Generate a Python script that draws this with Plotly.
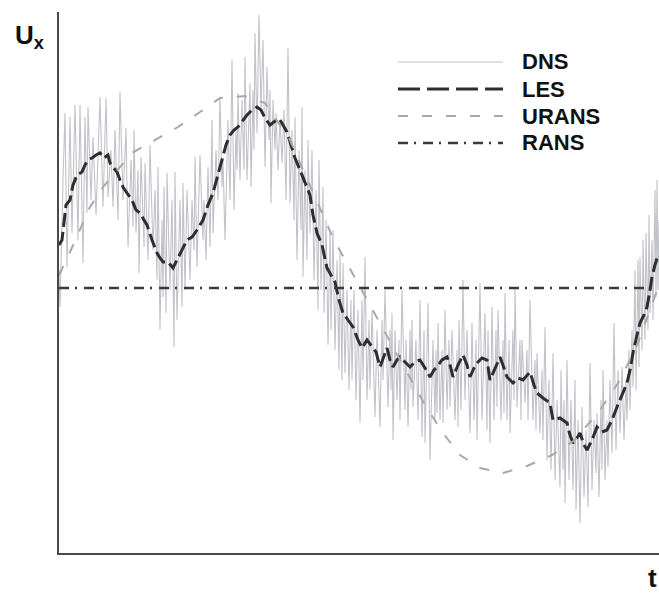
import plotly.graph_objects as go

# Time axis and velocity samples (arbitrary units, no tick labels on the chart)
dns_t = [59, 60, 63, 65, 67, 70, 72, 75, 78, 80, 83, 85, 87, 88, 91, 93, 96, 100, 103, 106,
         108, 111, 113, 115, 118, 120, 123, 126, 128, 131, 133, 134, 136, 138, 139, 141, 144, 145, 148, 150,
         153, 155, 157, 158, 160, 162, 163, 164, 166, 167, 170, 172, 174, 175, 177, 180, 182, 183, 185, 187,
         190, 192, 194, 195, 197, 200, 203, 204, 206, 208, 210, 212, 213, 216, 218, 220, 222, 223, 225, 228,
         230, 232, 234, 236, 237, 238, 240, 242, 244, 245, 247, 250, 251, 253, 254, 255, 257, 259, 261, 263,
         265, 267, 269, 270, 271, 273, 275, 276, 278, 280, 282, 284, 286, 288, 290, 292, 294, 295, 297, 299,
         301, 302, 303, 305, 307, 308, 310, 312, 314, 316, 318, 319, 321, 323, 324, 326, 328, 330, 331, 333,
         335, 337, 339, 340, 342, 343, 345, 347, 349, 351, 352, 354, 356, 358, 360, 362, 363, 365, 367, 369,
         370, 372, 375, 377, 380, 382, 383, 385, 388, 390, 391, 392, 393, 395, 397, 399, 400, 402, 405, 406,
         408, 410, 411, 412, 413, 416, 418, 420, 422, 424, 425, 428, 430, 433, 435, 436, 437, 438, 440, 442,
         443, 445, 447, 449, 450, 452, 455, 457, 458, 459, 461, 463, 465, 467, 470, 472, 474, 476, 477, 480,
         482, 485, 487, 488, 490, 492, 494, 496, 497, 498, 501, 503, 504, 505, 507, 509, 510, 513, 514, 515,
         517, 520, 521, 522, 525, 527, 528, 530, 533, 535, 536, 537, 540, 542, 543, 545, 547, 549, 551, 553,
         555, 557, 560, 561, 563, 564, 565, 567, 569, 571, 573, 575, 576, 578, 580, 582, 584, 586, 588, 590,
         592, 594, 596, 597, 599, 601, 602, 603, 605, 607, 608, 610, 612, 614, 616, 618, 620, 622, 624, 626,
         627, 629, 630, 632, 633, 635, 636, 638, 639, 640, 642, 643, 645, 646, 648, 649, 650, 652, 653, 655,
         656, 657, 658, 659]
dns_u = [330, 293, 420, 487, 333, 483, 367, 495, 360, 495, 337, 483, 387, 493, 400, 463, 385, 503, 393, 502,
         403, 450, 393, 470, 380, 508, 400, 472, 353, 440, 373, 470, 367, 430, 327, 443, 353, 437, 340, 455,
         350, 410, 320, 433, 270, 380, 303, 413, 287, 427, 310, 400, 253, 428, 280, 400, 293, 417, 310, 410,
         320, 400, 350, 443, 333, 445, 360, 400, 340, 433, 353, 480, 367, 450, 400, 503, 413, 440, 360, 480,
         400, 540, 390, 470, 430, 507, 420, 500, 430, 543, 420, 517, 413, 510, 450, 567, 467, 585, 490, 560,
         433, 533, 460, 510, 397, 500, 450, 487, 430, 480, 437, 490, 400, 552, 397, 470, 380, 483, 340, 450,
         370, 493, 323, 430, 340, 460, 367, 450, 320, 410, 290, 440, 310, 413, 287, 380, 255, 370, 270, 370,
         250, 340, 230, 347, 220, 337, 227, 310, 210, 300, 220, 310, 200, 290, 177, 300, 220, 343, 200, 280,
         210, 290, 183, 270, 173, 280, 220, 310, 193, 270, 210, 287, 160, 270, 200, 260, 180, 310, 190, 260,
         173, 270, 210, 280, 193, 260, 180, 300, 163, 270, 157, 297, 140, 260, 180, 250, 187, 277, 180, 250,
         177, 290, 190, 260, 193, 270, 180, 250, 173, 280, 190, 320, 200, 270, 167, 277, 180, 260, 160, 317,
         180, 287, 170, 270, 157, 293, 180, 270, 193, 290, 180, 260, 187, 307, 180, 260, 167, 270, 200, 313,
         193, 260, 180, 260, 197, 250, 180, 300, 180, 240, 170, 247, 167, 230, 160, 273, 140, 220, 130, 247,
         120, 200, 113, 230, 130, 200, 97, 240, 120, 200, 110, 220, 90, 180, 77, 193, 103, 170, 93, 237,
         110, 180, 127, 187, 103, 200, 130, 230, 120, 180, 133, 220, 147, 277, 150, 230, 167, 233, 160, 220,
         180, 250, 190, 270, 213, 330, 210, 340, 233, 343, 250, 360, 260, 367, 270, 385, 287, 360, 280, 410,
         303, 420, 310, 380]

les_t = [59, 62, 66, 70, 73, 77, 82, 85, 88, 92, 96, 100, 104, 108, 110, 114, 117, 120, 123, 127,
         132, 136, 140, 144, 147, 152, 157, 160, 163, 168, 173, 178, 183, 187, 192, 197, 203, 208, 213, 218,
         222, 226, 230, 234, 238, 243, 247, 252, 257, 261, 265, 270, 274, 279, 283, 287, 291, 295, 300, 305,
         310, 313, 317, 322, 327, 331, 335, 339, 343, 348, 353, 358, 362, 367, 372, 376, 380, 384, 387, 390,
         393, 397, 400, 405, 410, 415, 420, 425, 430, 434, 437, 442, 447, 450, 453, 458, 463, 467, 470, 474,
         477, 482, 487, 490, 495, 500, 504, 507, 513, 518, 523, 530, 534, 537, 543, 550, 553, 560, 567, 570,
         573, 577, 580, 584, 587, 592, 597, 602, 607, 612, 617, 622, 627, 630, 633, 637, 640, 644, 647, 650,
         652, 655, 658]
les_u = [355, 360, 395, 400, 415, 425, 428, 435, 440, 442, 445, 447, 442, 445, 437, 432, 428, 420, 413, 407,
         400, 390, 387, 380, 375, 360, 347, 342, 338, 338, 332, 342, 353, 360, 363, 370, 380, 395, 407, 425,
         440, 455, 465, 470, 473, 480, 485, 490, 493, 490, 482, 475, 478, 482, 475, 468, 455, 442, 430, 418,
         405, 385, 367, 355, 332, 325, 318, 300, 287, 280, 273, 260, 252, 260, 253, 248, 233, 245, 252, 240,
         233, 240, 243, 238, 233, 238, 240, 232, 223, 230, 233, 240, 243, 235, 223, 235, 245, 235, 223, 232,
         237, 242, 240, 220, 232, 243, 232, 223, 217, 222, 220, 228, 215, 207, 202, 197, 180, 182, 177, 165,
         157, 162, 167, 155, 150, 160, 173, 168, 170, 180, 193, 205, 217, 230, 247, 265, 277, 285, 293, 310,
         323, 335, 345]

urans_t = [59, 70, 90, 103, 132, 155, 178, 200, 220, 245, 265, 290, 310, 333, 360, 382, 405, 425, 443, 460,
           480, 503, 527, 552, 575, 600, 620, 638, 659]
urans_u = [325, 348, 393, 413, 447, 460, 473, 488, 502, 504, 497, 460, 415, 362, 313, 273, 230, 195, 167, 145,
           132, 127, 134, 145, 160, 190, 220, 257, 315]

rans_t = [59, 659]
rans_u = [312, 312]

T_RANGE = [59, 659]
U_RANGE = [47, 588]

series_names = ["DNS", "LES", "URANS", "RANS"]
series_styles = {
    "DNS": dict(color="#c2c2ca", width=1.1, dash="solid"),
    "LES": dict(color="#2e2e2e", width=3, dash="14px,5px"),
    "URANS": dict(color="#a8a8a8", width=2, dash="10px,14px"),
    "RANS": dict(color="#3a3a3a", width=2.5, dash="10px,6px,2px,7px"),
}
series_data = {
    "DNS": (dns_t, dns_u),
    "LES": (les_t, les_u),
    "URANS": (urans_t, urans_u),
    "RANS": (rans_t, rans_u),
}

W, H = 659, 595
ML, MR, MT, MB = 59, 0, 12, 42
PW, PH = W - ML - MR, H - MT - MB


def px(x):
    return (x - ML) / PW


def py(y):
    return (H - MB - y) / PH


fig = go.Figure()
for name in series_names:
    t, u = series_data[name]
    fig.add_trace(go.Scatter(x=t, y=u, mode="lines", name=name,
                             line=series_styles[name], showlegend=False,
                             hoverinfo="skip"))

# Hand-placed key in the upper right of the plot area
key_rows = [62, 89, 116, 143]
shapes = []
annotations = []
label_font = dict(family="Liberation Sans, Arial, sans-serif", size=22, color="#111111")
for name, yrow in zip(series_names, key_rows):
    st = series_styles[name]
    key_dash = "22px,7px" if name == "LES" else st["dash"]
    shapes.append(dict(type="line", xref="paper", yref="paper",
                       x0=px(398), x1=px(503), y0=py(yrow), y1=py(yrow),
                       line=dict(color=st["color"], width=st["width"], dash=key_dash)))
    annotations.append(dict(xref="paper", yref="paper", x=px(520), y=py(yrow),
                            xanchor="left", yanchor="middle", showarrow=False,
                            text=f"<b>{name}</b>", font=label_font))

annotations.append(dict(xref="paper", yref="paper", x=px(13), y=py(55),
                        xanchor="left", yanchor="bottom", showarrow=False,
                        text="<b>U<sub>x</sub></b>",
                        font=dict(family="Liberation Sans, Arial, sans-serif", size=26, color="#111111")))
annotations.append(dict(xref="paper", yref="paper", x=px(659), y=py(595),
                        xanchor="right", yanchor="bottom", showarrow=False,
                        text="<b>t</b>",
                        font=dict(family="Liberation Sans, Arial, sans-serif", size=26, color="#111111")))

fig.update_layout(
    width=W, height=H,
    margin=dict(l=ML, r=MR, t=MT, b=MB, pad=0),
    paper_bgcolor="white", plot_bgcolor="white",
    shapes=shapes, annotations=annotations,
    showlegend=False,
    xaxis=dict(range=T_RANGE, showgrid=False, zeroline=False, showticklabels=False,
               ticks="", showline=True, linecolor="#4a4a4a", linewidth=2),
    yaxis=dict(range=U_RANGE, showgrid=False, zeroline=False, showticklabels=False,
               ticks="", showline=True, linecolor="#4a4a4a", linewidth=2),
)

fig.write_html("out.html")
